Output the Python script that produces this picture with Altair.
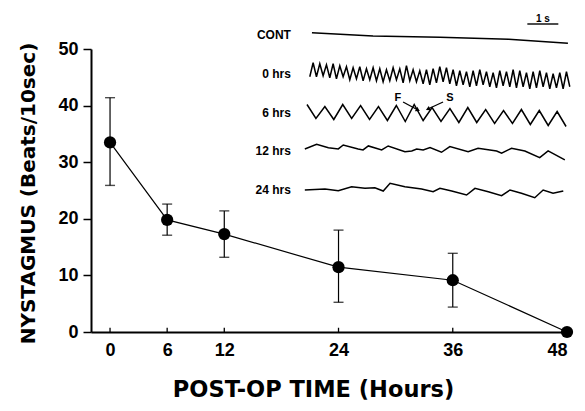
import altair as alt
import pandas as pd
import numpy as np

# ---------------- main data ----------------
HOURS = [0, 6, 12, 24, 36, 48]
MEAN = [33.5, 19.8, 17.3, 11.45, 9.15, 0.0]
HI = [41.4, 22.6, 21.4, 18.0, 13.9, 0.0]
LO = [25.9, 17.1, 13.2, 5.25, 4.4, 0.0]
X_TICKS = [0, 6, 12, 24, 36, 48]
Y_TICKS = [0, 10, 20, 30, 40, 50]

# ---------------- inset traces (deflection, px-like units, up positive) ----------------
ROW_LABELS = ["CONT", "0 hrs", "6 hrs", "12 hrs", "24 hrs"]
ROW_GAP = 38.75

CONT_T = [0.0, 1.97, 4.13, 6.35, 8.26]
CONT_D = [2.3, -1.0, -2.3, -4.3, -8.3]

H0_SPAN = [-0.07, 8.32]
H0_D = [-3, 11, -3, 10, -2, 9, -4, 10, -5, 8, -3, 7, -6, 6, -5, 7, -7, 5, -6, 6,
        -7, 5, -8, 4, -7, 6, -6, 5, -9, 8, -7, 4, -8, 3, -10, 4, -11, 5, -9, 7,
        -8, 6, -10, 4, -12, 3, -11, 2, -13, 3, -12, 4, -11, 2, -13, 1, -14, 3, -12, 2,
        -13, 4, -14, 3, -13, 1, -15, 2, -14, 3, -13, 1, -15, 0, -14, 1, -15, 2, -13]

H6_SPAN = [-0.16, 8.2]
H6_D = [8, -6, 6, -7, 8, -6, 7, -7, 6, -8, 7, -9, 8, -8, 5, -9, 4, -10, 5, -10,
        3, -11, 2, -11, 3, -12, 2, -13, 1, -14]

H12_T = [-0.23, 0.15, 0.53, 0.85, 1.01, 1.49, 1.65, 1.82, 2.25, 2.46, 3.0, 3.22, 3.38,
         3.59, 3.81, 4.18, 4.45, 5.04, 5.36, 5.96, 6.12, 6.44, 6.87, 7.35, 7.62, 8.16]
H12_D = [2.3, 7, 3.6, 2.3, 6.3, 2.3, 1.3, 5.3, 1.3, 5.3, -0.4, 0.3, 2.3,
         1.3, 3.6, -1, 4.6, -0.4, 3, 0.3, -2, 3, 0.3, -6.4, 0.3, -8.7]

H24_T = [-0.23, 0.42, 0.85, 1.28, 1.71, 2.03, 2.30, 2.52, 3.0, 3.54, 3.91, 4.13, 4.51,
         4.99, 5.26, 5.69, 6.12, 6.39, 6.76, 7.19, 7.46, 7.78, 8.11]
H24_D = [0, 1, -0.7, 3.3, 1.7, 2.3, -1, 6.7, 3.3, 1, -1.7, 1.7, -1,
         -5, 1.7, -1.7, -5.7, 0, -3.3, -7.7, 0, -3.3, -1]

FONT = "Liberation Sans"
TFONT = "DejaVu Sans"

# ---------------- build tables ----------------
main_df = pd.DataFrame({"h": HOURS, "m": MEAN, "lo": LO, "hi": HI})
ticks_df = pd.DataFrame({"t": X_TICKS})

rows = []
def add(name, r, ts, ds):
    for i, (t, d) in enumerate(zip(ts, ds)):
        rows.append({"trace": name, "i": i, "t": t, "v": -ROW_GAP * r + d})

add("CONT", 0, CONT_T, CONT_D)
add("0", 1, np.linspace(H0_SPAN[0], H0_SPAN[1], len(H0_D)), H0_D)
add("6", 2, np.linspace(H6_SPAN[0], H6_SPAN[1], len(H6_D)), H6_D)
add("12", 3, H12_T, H12_D)
add("24", 4, H24_T, H24_D)
trace_df = pd.DataFrame(rows)

label_df = pd.DataFrame({"lab": ROW_LABELS, "t": -0.68,
                         "v": [-ROW_GAP * r for r in range(len(ROW_LABELS))]})

arrow_df = pd.DataFrame({"t": [2.94, 4.23], "v": [-67, -67],
                         "t2": [3.42, 3.74], "v2": [-75, -74], "ang": [118, 245]})
fs_df = pd.DataFrame({"lab": ["F", "S"], "t": [2.77, 4.45], "v": [-63, -63]})
bar_df = pd.DataFrame({"t": [6.95], "t2": [7.95], "v": [11], "lab": ["1 s"]})

# ---------------- main chart ----------------
xs = alt.Scale(domain=[-2, 48], nice=False, zero=False)
ys = alt.Scale(domain=[0, 50], nice=False, zero=False)

xaxis = alt.Axis(values=X_TICKS, title="POST-OP TIME (Hours)", ticks=False, grid=False,
                 labelPadding=9, labelFontSize=18, labelFont=FONT, labelFontWeight="bold",
                 labelColor="black", domainColor="black", domainWidth=2,
                 titleFont=TFONT, titleFontSize=22.5, titleFontWeight="bold", titleColor="black",
                 titleX=222, titleY=64, titleBaseline="alphabetic", titleAlign="center")
yaxis = alt.Axis(values=Y_TICKS, title="NYSTAGMUS (Beats/10sec)", grid=False,
                 tickSize=8, tickWidth=1.5, tickColor="black", labelPadding=5,
                 labelFontSize=18, labelFont=FONT, labelFontWeight="bold", labelColor="black",
                 domainColor="black", domainWidth=2,
                 titleFont=TFONT, titleFontSize=20, titleFontWeight="bold", titleColor="black",
                 titleX=-63, titleY=144, titleBaseline="middle", titleAlign="center", titleAngle=270)

base = alt.Chart(main_df)
line = base.mark_line(color="black", strokeWidth=1.2).encode(
    x=alt.X("h:Q", scale=xs, axis=xaxis),
    y=alt.Y("m:Q", scale=ys, axis=yaxis))
err = base.mark_rule(color="black", strokeWidth=1.2).encode(
    x="h:Q", y="lo:Q", y2="hi:Q")
cap_hi = base.mark_tick(color="black", orient="horizontal", size=10, thickness=1.4).encode(
    x="h:Q", y="hi:Q")
cap_lo = base.mark_tick(color="black", orient="horizontal", size=10, thickness=1.4).encode(
    x="h:Q", y="lo:Q")
pts = base.mark_circle(size=150, color="black", opacity=1).encode(x="h:Q", y="m:Q")
xt = alt.Chart(ticks_df).mark_rule(color="black", strokeWidth=1.3).encode(
    x="t:Q", y=alt.datum(0), y2=alt.datum(0.75))

main = alt.layer(line, err, cap_hi, cap_lo, xt, pts)

# ---------------- inset ----------------
tx = alt.Scale(domain=[-7.13, 8.23], nice=False, zero=False)
ty = alt.Scale(domain=[-297, -14], nice=False, zero=False)

traces = alt.Chart(trace_df).mark_line(color="black", strokeWidth=1.5).encode(
    x=alt.X("t:Q", scale=tx, axis=None),
    y=alt.Y("v:Q", scale=ty, axis=None),
    detail="trace:N", order="i:Q")
labels = alt.Chart(label_df).mark_text(align="right", baseline="middle", font=FONT,
                                       fontSize=12, fontWeight="bold", color="black").encode(
    x=alt.X("t:Q", scale=tx, axis=None), y=alt.Y("v:Q", scale=ty, axis=None), text="lab:N")
arrows = alt.Chart(arrow_df).mark_rule(color="black", strokeWidth=1.3).encode(
    x=alt.X("t:Q", scale=tx, axis=None), y=alt.Y("v:Q", scale=ty, axis=None),
    x2="t2:Q", y2="v2:Q")
heads = alt.Chart(arrow_df).mark_point(shape="triangle-up", filled=True, color="black",
                                       size=24, opacity=1).encode(
    x=alt.X("t2:Q", scale=tx, axis=None), y=alt.Y("v2:Q", scale=ty, axis=None),
    angle=alt.Angle("ang:Q", scale=None))
fs = alt.Chart(fs_df).mark_text(font=FONT, fontSize=11, fontWeight="bold", color="black",
                                baseline="middle").encode(
    x=alt.X("t:Q", scale=tx, axis=None), y=alt.Y("v:Q", scale=ty, axis=None), text="lab:N")
sbar = alt.Chart(bar_df).mark_rule(color="black", strokeWidth=1.4).encode(
    x=alt.X("t:Q", scale=tx, axis=None), x2="t2:Q", y=alt.Y("v:Q", scale=ty, axis=None))
stext = alt.Chart(bar_df).mark_text(font=FONT, fontSize=10, fontWeight="bold", color="black",
                                    baseline="bottom", dy=-0.5).encode(
    x=alt.X("t:Q", scale=tx, axis=None), y=alt.Y("v:Q", scale=ty, axis=None), text="lab:N")
stext = stext.transform_calculate(t="(datum.t + datum.t2) / 2")

inset = alt.layer(traces, labels, arrows, heads, fs, sbar, stext)

chart = alt.layer(main, inset).resolve_scale(x="independent", y="independent").properties(
    width=476, height=283,
    padding={"left": 83, "top": 41, "right": 10, "bottom": 71},
    autosize=alt.AutoSizeParams(type="none"),
    background="white",
).configure_view(stroke=None)

chart.save("out.html", embed_options={"renderer": "svg", "actions": False})
